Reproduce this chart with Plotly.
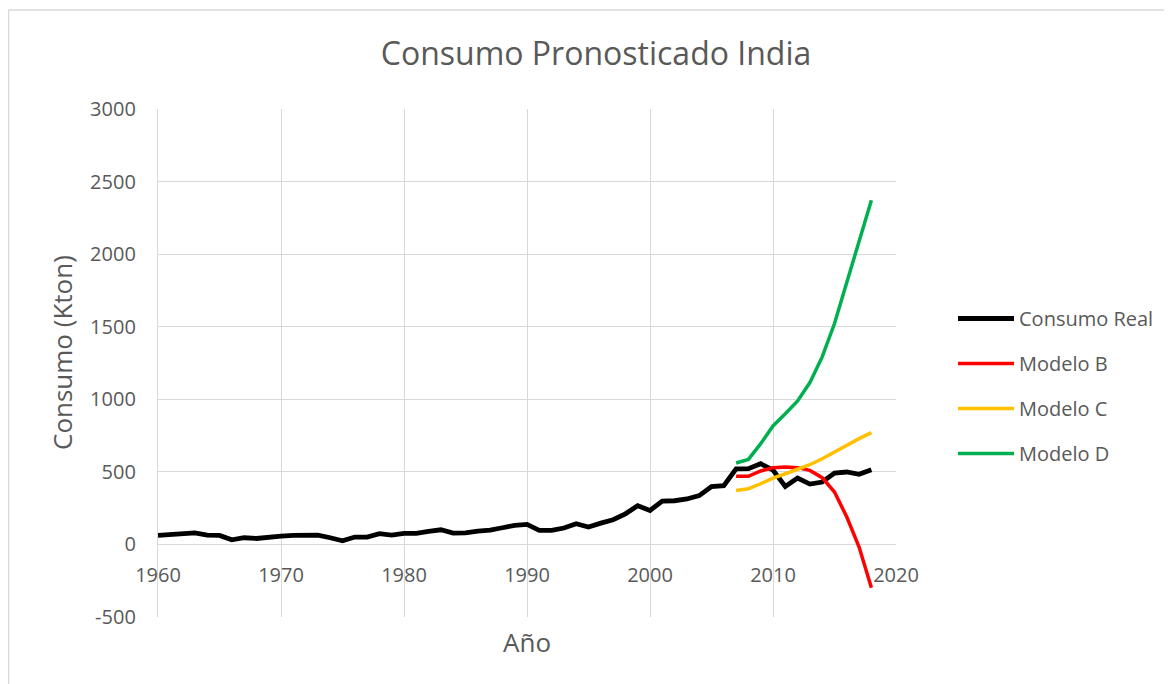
import plotly.graph_objects as go

years_real = list(range(1960, 2019))
consumo_real = [62, 69, 80, 80, 64, 62, 32, 46, 41, 53,
                57, 62, 60, 64, 46, 25, 51, 51, 74, 64,
                76, 76, 90, 101, 78, 80, 92, 99, 115, 131,
                138, 97, 97, 113, 143, 120, 147, 170, 211, 267,
                234, 299, 301, 313, 336, 398, 405, 520, 522, 556,
                512, 400, 457, 416, 430, 492, 499, 483, 515]

years_model = list(range(2007, 2019))
modelo_b = [469, 469, 506, 529, 533, 529, 510, 460, 361, 189, -18, -299]
modelo_c = [372, 384, 418, 457, 487, 515, 549, 590, 637, 687, 729, 770]
modelo_d = [561, 586, 694, 816, 901, 989, 1115, 1292, 1522, 1809, 2085, 2372]

x_ticks = [1960, 1970, 1980, 1990, 2000, 2010, 2020]
y_ticks = [-500, 0, 500, 1000, 1500, 2000, 2500, 3000]
y_tick_labels = ["-500", "0", "500", "1000", "1500", "2000", "2500", "3000"]

FONT = "Open Sans"
TXT = "#595959"
GRID = "#d9d9d9"

# figure geometry (page body adds an 8px offset)
W, H = 1172, 684
L, T, R, B = 150, 101, 284, 75
PW, PH = W - L - R, H - T - B


def px(xf):
    return (xf - L) / PW


def py(yf):
    return (T + PH - yf) / PH


fig = go.Figure()
fig.add_trace(go.Scatter(x=years_real, y=consumo_real, mode="lines", name="Consumo Real",
                         line=dict(color="#000000", width=4.8), legendgroup="a"))
fig.add_trace(go.Scatter(x=years_model, y=modelo_b, mode="lines", name="Modelo B",
                         line=dict(color="#ff0000", width=3.5), legendgroup="b"))
fig.add_trace(go.Scatter(x=years_model, y=modelo_c, mode="lines", name="Modelo C",
                         line=dict(color="#ffc000", width=3.5), legendgroup="c"))
fig.add_trace(go.Scatter(x=years_model, y=modelo_d, mode="lines", name="Modelo D",
                         line=dict(color="#00b050", width=3.5), legendgroup="d"))

ymin, ymax = -500, 3000
fig.update_layout(
    width=W, height=H,
    margin=dict(l=L, r=R, t=T, b=B),
    paper_bgcolor="white", plot_bgcolor="white",
    font=dict(family=FONT, color=TXT, size=20),
    title=dict(text="Consumo Pronosticado India", x=588 / W, xanchor="center",
               y=1 - 46 / H, yanchor="middle",
               font=dict(size=32, color=TXT, family=FONT)),
    xaxis=dict(range=[1960, 2020], tickvals=x_ticks, showgrid=True, gridcolor=GRID, gridwidth=1.3,
               zeroline=False, showline=False, anchor="free",
               position=(0 - ymin) / (ymax - ymin), ticks="", ticklabelstandoff=17,
               tickfont=dict(size=20, color=TXT)),
    yaxis=dict(range=[ymin, ymax], tickvals=y_ticks, ticktext=y_tick_labels,
               showgrid=True, gridcolor=GRID, gridwidth=1.3,
               zeroline=True, zerolinecolor=GRID, zerolinewidth=1.3,
               showline=True, linecolor=GRID, linewidth=1.3, mirror=False,
               ticks="", ticklabelstandoff=17, tickfont=dict(size=20, color=TXT)),
    legend=dict(x=px(945), y=py(291), xanchor="left", yanchor="top", tracegroupgap=16,
                itemwidth=56, font=dict(size=20, color=TXT), bgcolor="rgba(0,0,0,0)"),
    showlegend=True,
)

fig.add_annotation(text="Consumo (Kton)", xref="paper", yref="paper", x=px(54), y=py(344),
                   textangle=-90, showarrow=False, xanchor="center", yanchor="middle",
                   font=dict(size=26, color=TXT, family=FONT))
fig.add_annotation(text="Año", xref="paper", yref="paper", x=px(519), y=py(634),
                   showarrow=False, xanchor="center", yanchor="middle",
                   font=dict(size=26, color=TXT, family=FONT))

# Chart outer border
fig.add_shape(type="rect", xref="paper", yref="paper",
              x0=px(0.5), x1=px(W + 20),
              y0=py(H + 20), y1=py(2),
              line=dict(color=GRID, width=1.5), fillcolor="rgba(0,0,0,0)", layer="below")

fig.write_html("out.html")
